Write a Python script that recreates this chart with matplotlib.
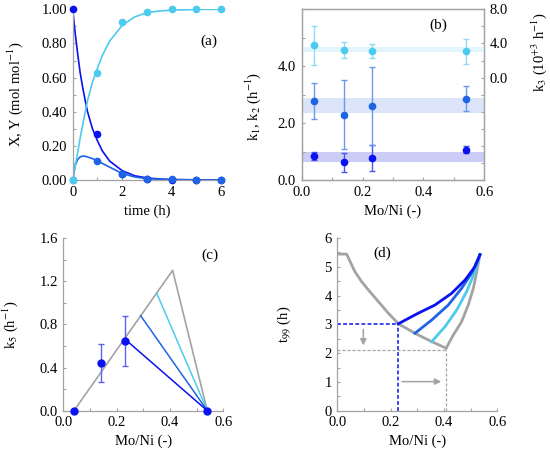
import matplotlib
matplotlib.use('Agg')
import matplotlib.pyplot as plt
import numpy as np
from matplotlib.ticker import MultipleLocator, FormatStrFormatter

plt.rcParams['font.family'] = ['Liberation Serif', 'DejaVu Serif']
plt.rcParams['mathtext.fontset'] = 'stix'
plt.rcParams['font.size'] = 10

azul = '#0a12f0'
medio = '#1f64e6'
ciano = '#4ccbef'
cinza = '#a3a3a3'

# (a) dados medidos
tempo = [0, 1, 2, 3, 4, 5, 6]
X_pts = [1.0, 0.268, 0.035, 0.005, 0.002, 0.001, 0.0]
Y_pts = [0.0, 0.113, 0.035, 0.008, 0.003, 0.002, 0.0]
Z_pts = [0.0, 0.625, 0.926, 0.986, 1.0, 1.0, 1.0]
# (a) curvas do modelo
t_mod = [0, 0.1, 0.2, 0.3, 0.4, 0.5, 0.6, 0.8, 1.0, 1.2, 1.5, 2.0, 2.5, 3.0, 3.5, 4.0, 5.0, 6.0]
X_mod = [1.0, 0.86, 0.74, 0.63, 0.545, 0.47, 0.40, 0.30, 0.23, 0.17, 0.11, 0.055, 0.025, 0.012, 0.006, 0.003, 0.001, 0.0]
Y_mod = [0.0, 0.085, 0.12, 0.135, 0.140, 0.139, 0.135, 0.125, 0.113, 0.097, 0.075, 0.038, 0.018, 0.008, 0.004, 0.002, 0.0, 0.0]
Z_mod = [0.0, 0.08, 0.16, 0.245, 0.32, 0.395, 0.465, 0.575, 0.655, 0.73, 0.815, 0.905, 0.955, 0.98, 0.99, 0.995, 0.999, 1.0]

# (b) constantes cineticas
moni = [0.04, 0.14, 0.23, 0.54]
k1 = [0.84, 0.62, 0.77, 1.06]
k1_lo = [0.69, 0.29, 0.33, 0.94]
k1_hi = [0.99, 0.96, 1.22, 1.19]
k2 = [2.77, 2.28, 2.60, 2.85]
k2_lo = [2.14, 1.09, 1.22, 2.42]
k2_hi = [3.42, 3.50, 3.98, 3.30]
k3 = [3.77, 3.23, 3.11, 3.11]
k3_lo = [1.45, 2.27, 2.33, 1.60]
k3_hi = [6.0, 4.19, 3.88, 4.5]
faixa_k1 = (0.63, 0.99)
faixa_k2 = (2.37, 2.87)
faixa_k3 = (2.96, 3.6)

# (c) k5
k5 = [0.0, 0.44, 0.65, 0.0]
k5_lo = [0.0, 0.27, 0.41, 0.0]
k5_hi = [0.0, 0.62, 0.88, 0.0]
tri_x = [0.04, 0.41, 0.54]
tri_y = [0.0, 1.30, 0.0]
lin_azul_x = [0.23, 0.54]
lin_azul_y = [0.665, 0.0]
lin_medio_x = [0.29, 0.54]
lin_medio_y = [0.88, 0.0]
lin_ciano_x = [0.35, 0.54]
lin_ciano_y = [1.09, 0.0]

# (d) t99
cinza_esq_x = [0.0, 0.035, 0.048, 0.066, 0.0915, 0.116, 0.154, 0.191, 0.229, 0.291, 0.354, 0.408]
cinza_esq_y = [5.44, 5.44, 5.18, 4.83, 4.48, 4.20, 3.79, 3.39, 3.02, 2.69, 2.40, 2.17]
cinza_dir_x = [0.408, 0.435, 0.466, 0.491, 0.51, 0.523, 0.535]
cinza_dir_y = [2.17, 2.63, 3.09, 3.67, 4.25, 4.83, 5.42]
t99_azul_x = [0.229, 0.304, 0.366, 0.429, 0.479, 0.516, 0.535]
t99_azul_y = [3.02, 3.39, 3.67, 4.08, 4.54, 5.0, 5.42]
t99_medio_x = [0.291, 0.354, 0.416, 0.466, 0.504, 0.535]
t99_medio_y = [2.69, 3.15, 3.67, 4.25, 4.78, 5.42]
t99_ciano_x = [0.354, 0.404, 0.448, 0.485, 0.516, 0.535]
t99_ciano_y = [2.40, 2.92, 3.50, 4.14, 4.83, 5.42]


def estilo(ax, caixa=False):
    for s in ['left', 'bottom', 'top', 'right']:
        ax.spines[s].set_color(cinza)
        ax.spines[s].set_linewidth(0.9)
    if not caixa:
        ax.spines['top'].set_visible(False)
        ax.spines['right'].set_visible(False)
    ax.tick_params(which='both', direction='in', color=cinza, length=2.5, width=0.8, labelsize=10.5)
    ax.tick_params(which='major', pad=4)


fig = plt.figure(figsize=(5.5, 4.58), dpi=100)

# ---------- (a)
ax = fig.add_axes([0.1322, 0.607, 0.2696, 0.3727])
estilo(ax)
ax.plot(t_mod, X_mod, color=azul, lw=1.2)
ax.plot(t_mod, Y_mod, color=medio, lw=1.2)
ax.plot(t_mod, Z_mod, color=ciano, lw=1.2)
ax.plot(tempo, X_pts, 'o', color=azul, ms=4.5, clip_on=False, zorder=3)
ax.plot(tempo, Y_pts, 'o', color=medio, ms=4.5, clip_on=False, zorder=3)
ax.plot(tempo, Z_pts, 'o', color=ciano, ms=4.5, clip_on=False, zorder=3)
ax.set_xlim(0, 6)
ax.set_ylim(0, 1.0)
ax.set_xticks([0, 2, 4, 6])
ax.xaxis.set_minor_locator(MultipleLocator(1))
ax.set_yticks([0, 0.2, 0.4, 0.6, 0.8, 1.0])
ax.yaxis.set_major_formatter(FormatStrFormatter('%.2f'))
ax.yaxis.set_minor_locator(MultipleLocator(0.1))
ax.set_xlabel('time (h)', fontsize=10.5, labelpad=4)
ax.set_ylabel('X, Y (mol mol$^{-1}$)', fontsize=10.5)
ax.yaxis.set_label_coords(-0.32, 0.5)
ax.text(5.49, 0.81, '(a)', ha='center', va='center', fontsize=11)

# ---------- (b)
ax = fig.add_axes([0.5485, 0.607, 0.332, 0.3727])
estilo(ax, caixa=True)
ax.axhspan(*faixa_k1, color='#cbcdf7', lw=0, zorder=0)
ax.axhspan(*faixa_k2, color='#dbe4f8', lw=0, zorder=0)
ax.errorbar(moni, k1, yerr=[np.subtract(k1, k1_lo), np.subtract(k1_hi, k1)], fmt='o', color=azul,
            ecolor='#4a55f2', ms=4.5, capsize=2.5, elinewidth=1.0, capthick=1.0)
ax.errorbar(moni, k2, yerr=[np.subtract(k2, k2_lo), np.subtract(k2_hi, k2)], fmt='o', color=medio,
            ecolor='#6b98ee', ms=4.5, capsize=2.5, elinewidth=1.0, capthick=1.0)
ax.set_xlim(0, 0.6)
ax.set_ylim(0, 6)
ax.set_xticks([0, 0.2, 0.4, 0.6])
ax.xaxis.set_major_formatter(FormatStrFormatter('%.1f'))
ax.xaxis.set_minor_locator(MultipleLocator(0.1))
ax.set_yticks([0, 2, 4])
ax.yaxis.set_major_formatter(FormatStrFormatter('%.1f'))
ax.yaxis.set_minor_locator(MultipleLocator(1))
ax.set_xlabel('Mo/Ni (-)', fontsize=10.5, labelpad=4)
ax.set_ylabel('k$_1$, k$_2$ (h$^{-1}$)', fontsize=10.5)
ax.yaxis.set_label_coords(-0.21, 0.43)
ax.text(0.448, 5.44, '(b)', ha='center', va='center', fontsize=11)

ax2 = ax.twinx()
estilo(ax2, caixa=True)
ax2.axhspan(*faixa_k3, color='#e2f5fc', lw=0, zorder=0)
ax2.errorbar(moni, k3, yerr=[np.subtract(k3, k3_lo), np.subtract(k3_hi, k3)], fmt='o', color=ciano,
             ecolor='#8fdcf3', ms=4.5, capsize=2.5, elinewidth=1.0, capthick=1.0)
ax2.set_ylim(-12, 8)
ax2.set_yticks([0, 4, 8])
ax2.yaxis.set_major_formatter(FormatStrFormatter('%.1f'))
ax2.yaxis.set_minor_locator(MultipleLocator(2))
ax2.set_ylabel('k$_3$ (10$^{+3}$ h$^{-1}$)', fontsize=10.5)
ax2.yaxis.set_label_coords(1.245, 0.75)

# ---------- (c)
ax = fig.add_axes([0.1151, 0.1033, 0.2909, 0.3771])
estilo(ax)
ax.plot(tri_x, tri_y, color=cinza, lw=1.2)
ax.plot(lin_ciano_x, lin_ciano_y, color=ciano, lw=1.1)
ax.plot(lin_medio_x, lin_medio_y, color=medio, lw=1.1)
ax.plot(lin_azul_x, lin_azul_y, color=azul, lw=1.1)
ax.errorbar(moni, k5, yerr=[np.subtract(k5, k5_lo), np.subtract(k5_hi, k5)], fmt='o', color=azul,
            ecolor='#5a64f0', ms=5, capsize=2.5, elinewidth=1.0, capthick=1.0, clip_on=False, zorder=4)
ax.set_xlim(0, 0.6)
ax.set_ylim(0, 1.6)
ax.set_xticks([0, 0.2, 0.4, 0.6])
ax.xaxis.set_major_formatter(FormatStrFormatter('%.1f'))
ax.xaxis.set_minor_locator(MultipleLocator(0.1))
ax.set_yticks([0, 0.4, 0.8, 1.2, 1.6])
ax.yaxis.set_major_formatter(FormatStrFormatter('%.1f'))
ax.yaxis.set_minor_locator(MultipleLocator(0.2))
ax.set_xlabel('Mo/Ni (-)', fontsize=10.5, labelpad=4)
ax.set_ylabel('k$_5$ (h$^{-1}$)', fontsize=10.5)
ax.yaxis.set_label_coords(-0.27, 0.5)
ax.text(0.55, 1.44, '(c)', ha='center', va='center', fontsize=11)

# ---------- (d)
ax = fig.add_axes([0.6133, 0.1033, 0.2909, 0.3771])
estilo(ax)
ax.plot([0, 0.229], [3.0, 3.0], color=azul, ls=(0, (2.5, 1.5)), lw=1.1)
ax.plot([0.229, 0.229], [0, 3.0], color=azul, ls=(0, (2.5, 1.5)), lw=1.1)
ax.plot([0, 0.408], [2.12, 2.12], color=cinza, ls=(0, (2.5, 1.5)), lw=0.9)
ax.plot([0.408, 0.408], [0, 2.12], color=cinza, ls=(0, (2.5, 1.5)), lw=0.9)
ax.annotate('', xy=(0.0975, 2.17), xytext=(0.0975, 2.92),
            arrowprops=dict(arrowstyle='-|>', color=cinza, lw=1.1, mutation_scale=9))
ax.annotate('', xy=(0.40, 1.01), xytext=(0.232, 1.01),
            arrowprops=dict(arrowstyle='-|>', color=cinza, lw=1.1, mutation_scale=9))
ax.plot(cinza_esq_x, cinza_esq_y, color=cinza, lw=2.0, solid_joinstyle='round')
ax.plot(cinza_dir_x, cinza_dir_y, color=cinza, lw=2.0, solid_joinstyle='round')
ax.plot(t99_ciano_x, t99_ciano_y, color=ciano, lw=2.0)
ax.plot(t99_medio_x, t99_medio_y, color=medio, lw=2.0)
ax.plot(t99_azul_x, t99_azul_y, color=azul, lw=2.0)
ax.set_xlim(0, 0.6)
ax.set_ylim(0, 6)
ax.set_xticks([0, 0.2, 0.4, 0.6])
ax.xaxis.set_major_formatter(FormatStrFormatter('%.1f'))
ax.xaxis.set_minor_locator(MultipleLocator(0.1))
ax.set_yticks([0, 1, 2, 3, 4, 5, 6])
ax.yaxis.set_minor_locator(MultipleLocator(0.5))
ax.set_xlabel('Mo/Ni (-)', fontsize=10.5, labelpad=4)
ax.set_ylabel('t$_{99}$ (h)', fontsize=10.5)
ax.yaxis.set_label_coords(-0.28, 0.5)
ax.text(0.168, 5.48, '(d)', ha='center', va='center', fontsize=11)

fig.savefig('out.png', dpi=100)
